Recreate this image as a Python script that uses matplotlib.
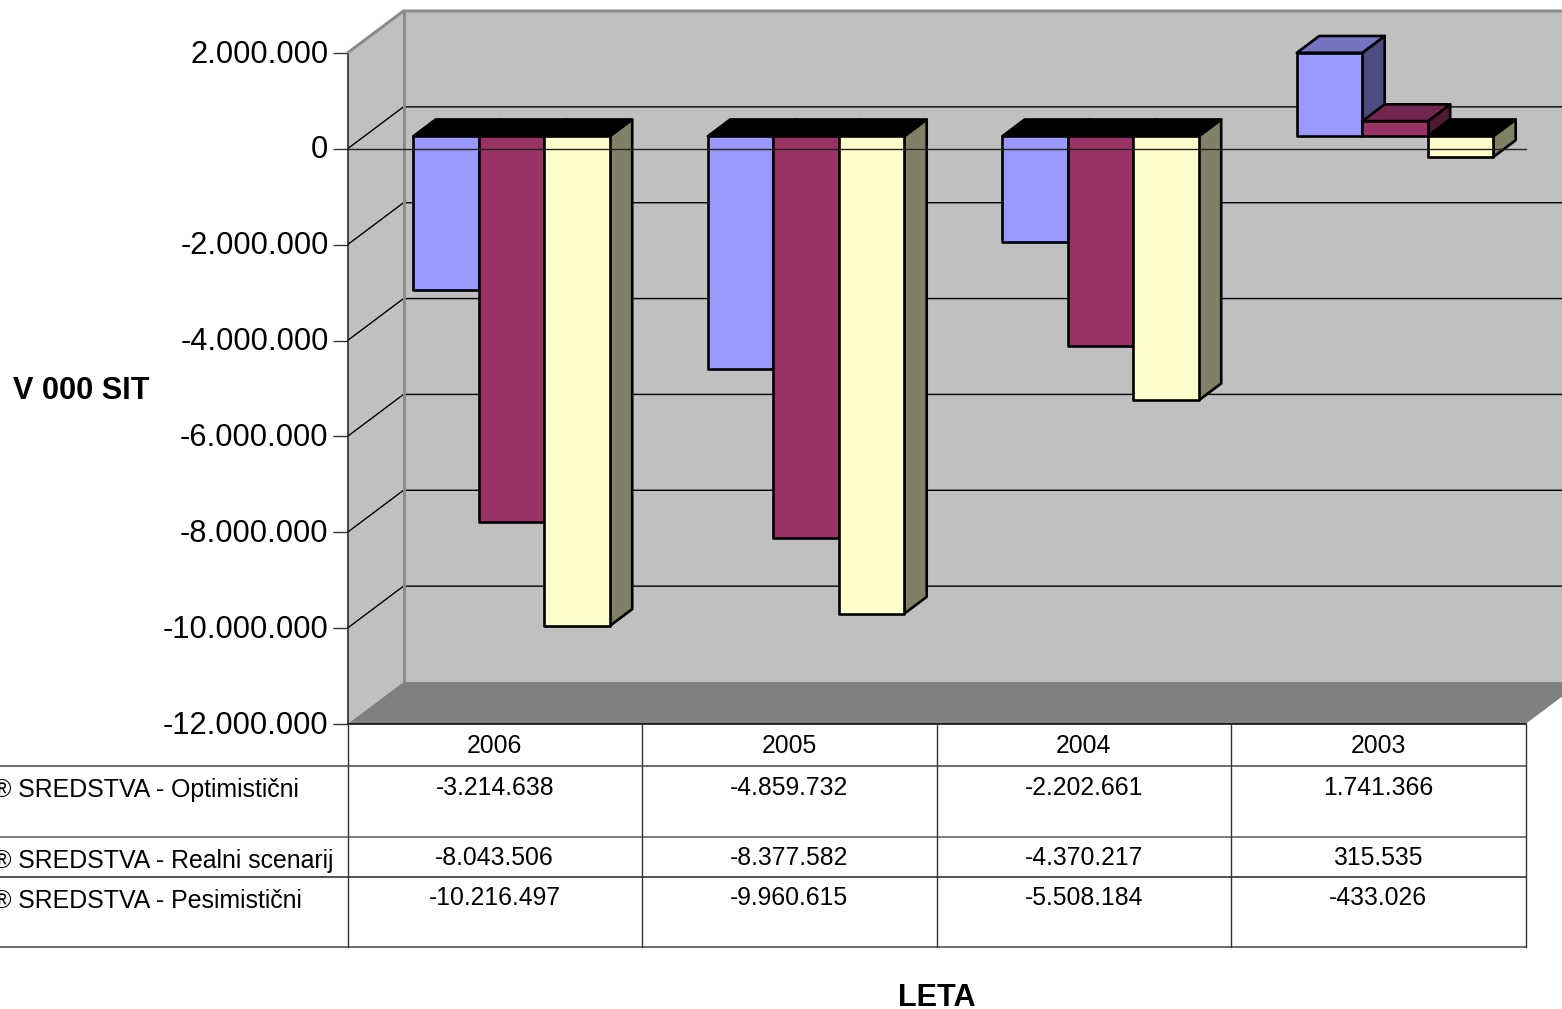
#!/usr/bin/env python3
"""Clustered pseudo-3D column chart with a data table underneath."""
import matplotlib
matplotlib.use("Agg")
import matplotlib.pyplot as plt
from matplotlib.patches import Polygon
from matplotlib.transforms import Affine2D

plt.rcParams["font.family"] = ["Liberation Sans", "DejaVu Sans"]

years = ["2006", "2005", "2004", "2003"]
optimistic = [-3214638, -4859732, -2202661, 1741366]
realistic = [-8043506, -8377582, -4370217, 315535]
pessimistic = [-10216497, -9960615, -5508184, -433026]
row_labels = ["® SREDSTVA - Optimistični", "® SREDSTVA - Realni scenarij",
              "® SREDSTVA - Pesimistični"]
y_ticks = [2000000, 0, -2000000, -4000000, -6000000, -8000000, -10000000, -12000000]

W, H = 1562, 1009
LEFT, RIGHT, TOP, BOTTOM = 347.5, 1525.5, 53, 724
DEPTH_X, DEPTH_Y = 56, 42
YMIN, YMAX = -12000000, 2000000
BAR_W = 0.2224
# bars sit between 30% and 70% of the floor depth
BAR_NEAR, BAR_FAR = 0.30, 0.70

# fill colours per series: front, side, top of a positive column
SERIES = [
    (optimistic, "#9999FF", "#4D4D80", "#7373BF"),
    (realistic, "#993366", "#4D1A33", "#732650"),
    (pessimistic, "#FFFFCC", "#808066", "#BFBF99"),
]
GRID = "#000000"
WALL = "#C0C0C0"
FLOOR = "#808080"


def dots(v):
    return f"{v:,}".replace(",", ".")


def proj(x, y, depth):
    """Shift a data point backwards along the oblique depth axis."""
    sx = 4.0 / (RIGHT - LEFT)
    sy = (YMAX - YMIN) / (BOTTOM - TOP)
    return x + depth * DEPTH_X * sx, y + depth * DEPTH_Y * sy


fig = plt.figure(figsize=(W / 100, H / 100), dpi=100, facecolor="white")
ax = fig.add_axes([LEFT / W, (H - BOTTOM) / H, (RIGHT - LEFT) / W, (BOTTOM - TOP) / H])
ax.set_xlim(0, 4)
ax.set_ylim(YMIN, YMAX)
ax.patch.set_visible(False)
for name in ["top", "right", "bottom"]:
    ax.spines[name].set_visible(False)
ax.spines["left"].set_color("#222222")
ax.spines["left"].set_linewidth(1.1)
ax.set_xticks([])
ax.set_yticks(y_ticks)
ax.set_yticklabels([dots(v) for v in y_ticks], fontsize=22.2)
ax.tick_params(axis="y", length=10.8, width=1.0, color="#333333", pad=3.6)
for label in ax.get_yticklabels():
    label.set_transform(label.get_transform() + Affine2D().translate(1, 2))


def face(points, color, z, edge="none", lw=0.0):
    ax.add_patch(Polygon(points, closed=True, facecolor=color, edgecolor=edge,
                         linewidth=lw, zorder=z, clip_on=False, joinstyle="round"))


def line(points, color, lw, z):
    xs, ys = zip(*points)
    ax.plot(xs, ys, color=color, lw=lw, zorder=z, clip_on=False, solid_capstyle="butt")


# walls and floor
face([proj(0, YMIN, 1), proj(4, YMIN, 1), proj(4, YMAX, 1), proj(0, YMAX, 1)], WALL, 1)
face([proj(0, YMIN, 0), proj(0, YMIN, 1), proj(0, YMAX, 1), proj(0, YMAX, 0)], WALL, 1)
face([proj(0, YMIN, 0), proj(4, YMIN, 0), proj(4, YMIN, 1), proj(0, YMIN, 1)], FLOOR, 1)

for v in y_ticks[1:-1]:
    line([proj(0, v, 0), proj(0, v, 1), proj(4, v, 1)], GRID, 1.0, 2)

line([proj(0, YMAX, 0), proj(0, YMAX, 1), proj(4, YMAX, 1)], "#8C8C8C", 2.2, 3)
line([proj(0, YMIN, 1), proj(0, YMAX, 1)], "#8C8C8C", 2.2, 3)

# columns, left to right so nearer faces overlap correctly
z = 4
for i in range(len(years)):
    left = i + 0.5 - 1.5 * BAR_W
    for s, (values, front, side, top) in enumerate(SERIES):
        v = values[i]
        x0, x1 = left + s * BAR_W, left + (s + 1) * BAR_W
        top_col = top if v > 0 else "black"
        hi = max(v, 0)
        lo = min(v, 0)
        face([proj(x1, lo, BAR_NEAR), proj(x1, lo, BAR_FAR),
              proj(x1, hi, BAR_FAR), proj(x1, hi, BAR_NEAR)], side, z, "black", 1.9)
        face([proj(x0, hi, BAR_NEAR), proj(x1, hi, BAR_NEAR),
              proj(x1, hi, BAR_FAR), proj(x0, hi, BAR_FAR)], top_col, z, "black", 1.9)
        face([proj(x0, lo, BAR_NEAR), proj(x1, lo, BAR_NEAR),
              proj(x1, hi, BAR_NEAR), proj(x0, hi, BAR_NEAR)], front, z, "black", 1.9)
        z += 1

# zero line runs in front of the columns
ax.plot([0, 4], [0, 0], color="#222222", lw=1.0, zorder=z, clip_on=False)

# data table and outer titles use figure pixels
page = fig.add_axes([0, 0, 1, 1], zorder=5)
page.set_xlim(0, W)
page.set_ylim(H, 0)
page.axis("off")

col_edges = [LEFT, 642, 936.5, 1231, RIGHT]
page.plot([LEFT, RIGHT], [724, 724], color="black", lw=1.1)
for y, c in [(766, "#555555"), (837, "#666666"), (877, "#333333"), (947, "#555555")]:
    page.plot([0, RIGHT], [y, y], color=c, lw=1.2)
for x in col_edges:
    page.plot([x, x], [724, 947], color="#333333", lw=1.0)

text_size = 17.8
for i, year in enumerate(years):
    cx = (col_edges[i] + col_edges[i + 1]) / 2
    page.text(cx, 746, year, ha="center", va="center", fontsize=text_size)
    for y, (values, *_) in zip([788, 858, 898], SERIES):
        page.text(cx, y, dots(values[i]), ha="center", va="center", fontsize=text_size)

for y, label in zip([790, 861, 901], row_labels):
    page.text(-7, y, label, ha="left", va="center", fontsize=17.95)

page.text(81, 391, "V 000 SIT", ha="center", va="center", fontsize=22.1, fontweight="bold")
page.text(936.5, 998, "LETA", ha="center", va="center", fontsize=22.1, fontweight="bold")

fig.savefig("out.png", dpi=100)
